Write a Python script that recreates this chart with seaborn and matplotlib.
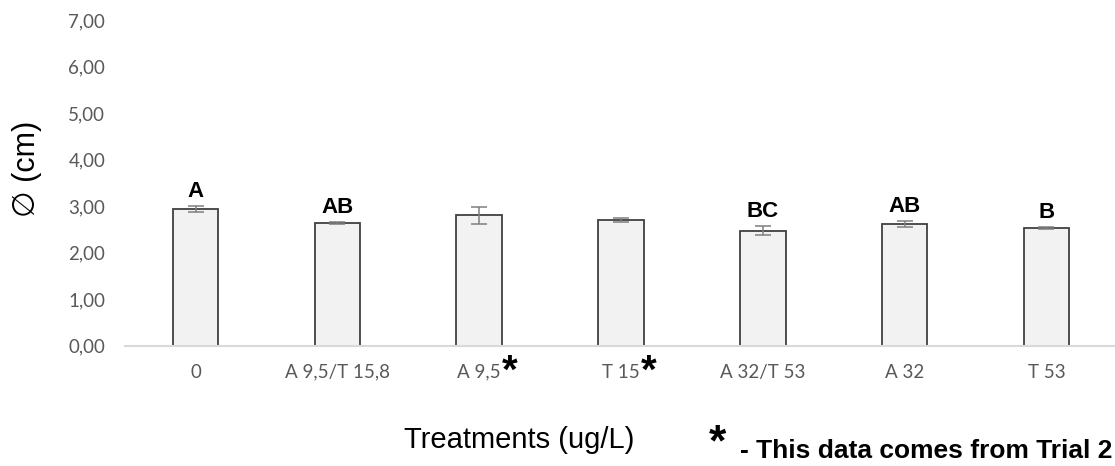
import matplotlib
matplotlib.use("Agg")
import matplotlib.pyplot as plt
import seaborn as sns
import pandas as pd

# ---- data ----
treatments = ["0", "A 9,5/T 15,8", "A 9,5", "T 15", "A 32/T 53", "A 32", "T 53"]
diameter_cm = [2.94, 2.64, 2.80, 2.70, 2.47, 2.61, 2.53]
error_cm = [0.065, 0.02, 0.18, 0.05, 0.10, 0.06, 0.02]
letters = ["A", "AB", "", "", "BC", "AB", "B"]
trial2 = [False, False, True, True, False, False, False]
y_ticks = [0, 1, 2, 3, 4, 5, 6, 7]
y_tick_labels = ["0,00", "1,00", "2,00", "3,00", "4,00", "5,00", "6,00", "7,00"]

df = pd.DataFrame({"treatment": treatments, "diameter": diameter_cm})

sns.set_theme(style="white")
plt.rcParams["font.family"] = ["Liberation Sans", "DejaVu Sans"]

W, H = 1115, 466
fig = plt.figure(figsize=(W / 100, H / 100), dpi=100)
ax = fig.add_axes([124.6 / W, 1 - 345.7 / H, 992.8 / W, 325.7 / H])

sns.barplot(data=df, x="treatment", y="diameter", order=treatments,
            color="#f2f2f2", saturation=1, edgecolor="#404040",
            linewidth=1.3, width=0.32, errorbar=None, ax=ax)

xpos = list(range(len(treatments)))
ax.errorbar(xpos, diameter_cm, yerr=error_cm, fmt="none", ecolor="#7f7f7f",
            elinewidth=1.1, capsize=6, capthick=1.1, zorder=3)

for x, m, e, lab in zip(xpos, diameter_cm, error_cm, letters):
    if lab:
        ax.annotate(lab, xy=(x, m + e), xytext=(0, 6.5), textcoords="offset points",
                    ha="center", va="baseline", fontsize=16, fontweight="bold",
                    color="black", family=["Liberation Sans", "DejaVu Sans"])

ax.set_xlim(-0.5, len(treatments) - 0.5)
ax.set_ylim(0, 7)
ax.set_yticks(y_ticks)
ax.set_yticklabels(y_tick_labels)
for sp in ["left", "right", "top"]:
    ax.spines[sp].set_visible(False)
ax.spines["bottom"].set_color("#d9d9d9")
ax.spines["bottom"].set_linewidth(1.5)
ax.tick_params(axis="both", length=0, colors="#595959", labelsize=13.5)
ax.tick_params(axis="y", pad=14)
ax.tick_params(axis="x", pad=13)
for t in ax.get_xticklabels() + ax.get_yticklabels():
    t.set_family(["Lato", "DejaVu Sans"])
ax.set_xlabel("")
ax.set_ylabel("\u2205 (cm)", fontsize=22, color="black",
              family=["Liberation Sans", "DejaVu Sans"])
ax.yaxis.label.set_va("center")
ax.yaxis.set_label_coords((27 - 124.6) / 992.8, (345.7 - 169) / 325.7)

# x axis title and footnote
fig.text(519 / W, 1 - 448 / H, "Treatments (ug/L)", ha="center", va="baseline",
         fontsize=21, color="black")
fig.text(709 / W, 1 - 455 / H, "*", ha="left", va="baseline",
         fontsize=32, fontweight="bold", color="black")
fig.text(740 / W, 1 - 458 / H, "- This data comes from Trial 2", ha="left",
         va="baseline", fontsize=19, fontweight="bold", color="black")

# asterisks next to trial-2 tick labels
fig.canvas.draw()
renderer = fig.canvas.get_renderer()
for lab, flag in zip(ax.get_xticklabels(), trial2):
    if flag:
        bb = lab.get_window_extent(renderer)
        fig.text((bb.x1 + 1) / W, 1 - 383 / H, "*", ha="left", va="baseline",
                 fontsize=29, fontweight="bold", color="black")

fig.savefig("out.png", dpi=100, facecolor="white")
